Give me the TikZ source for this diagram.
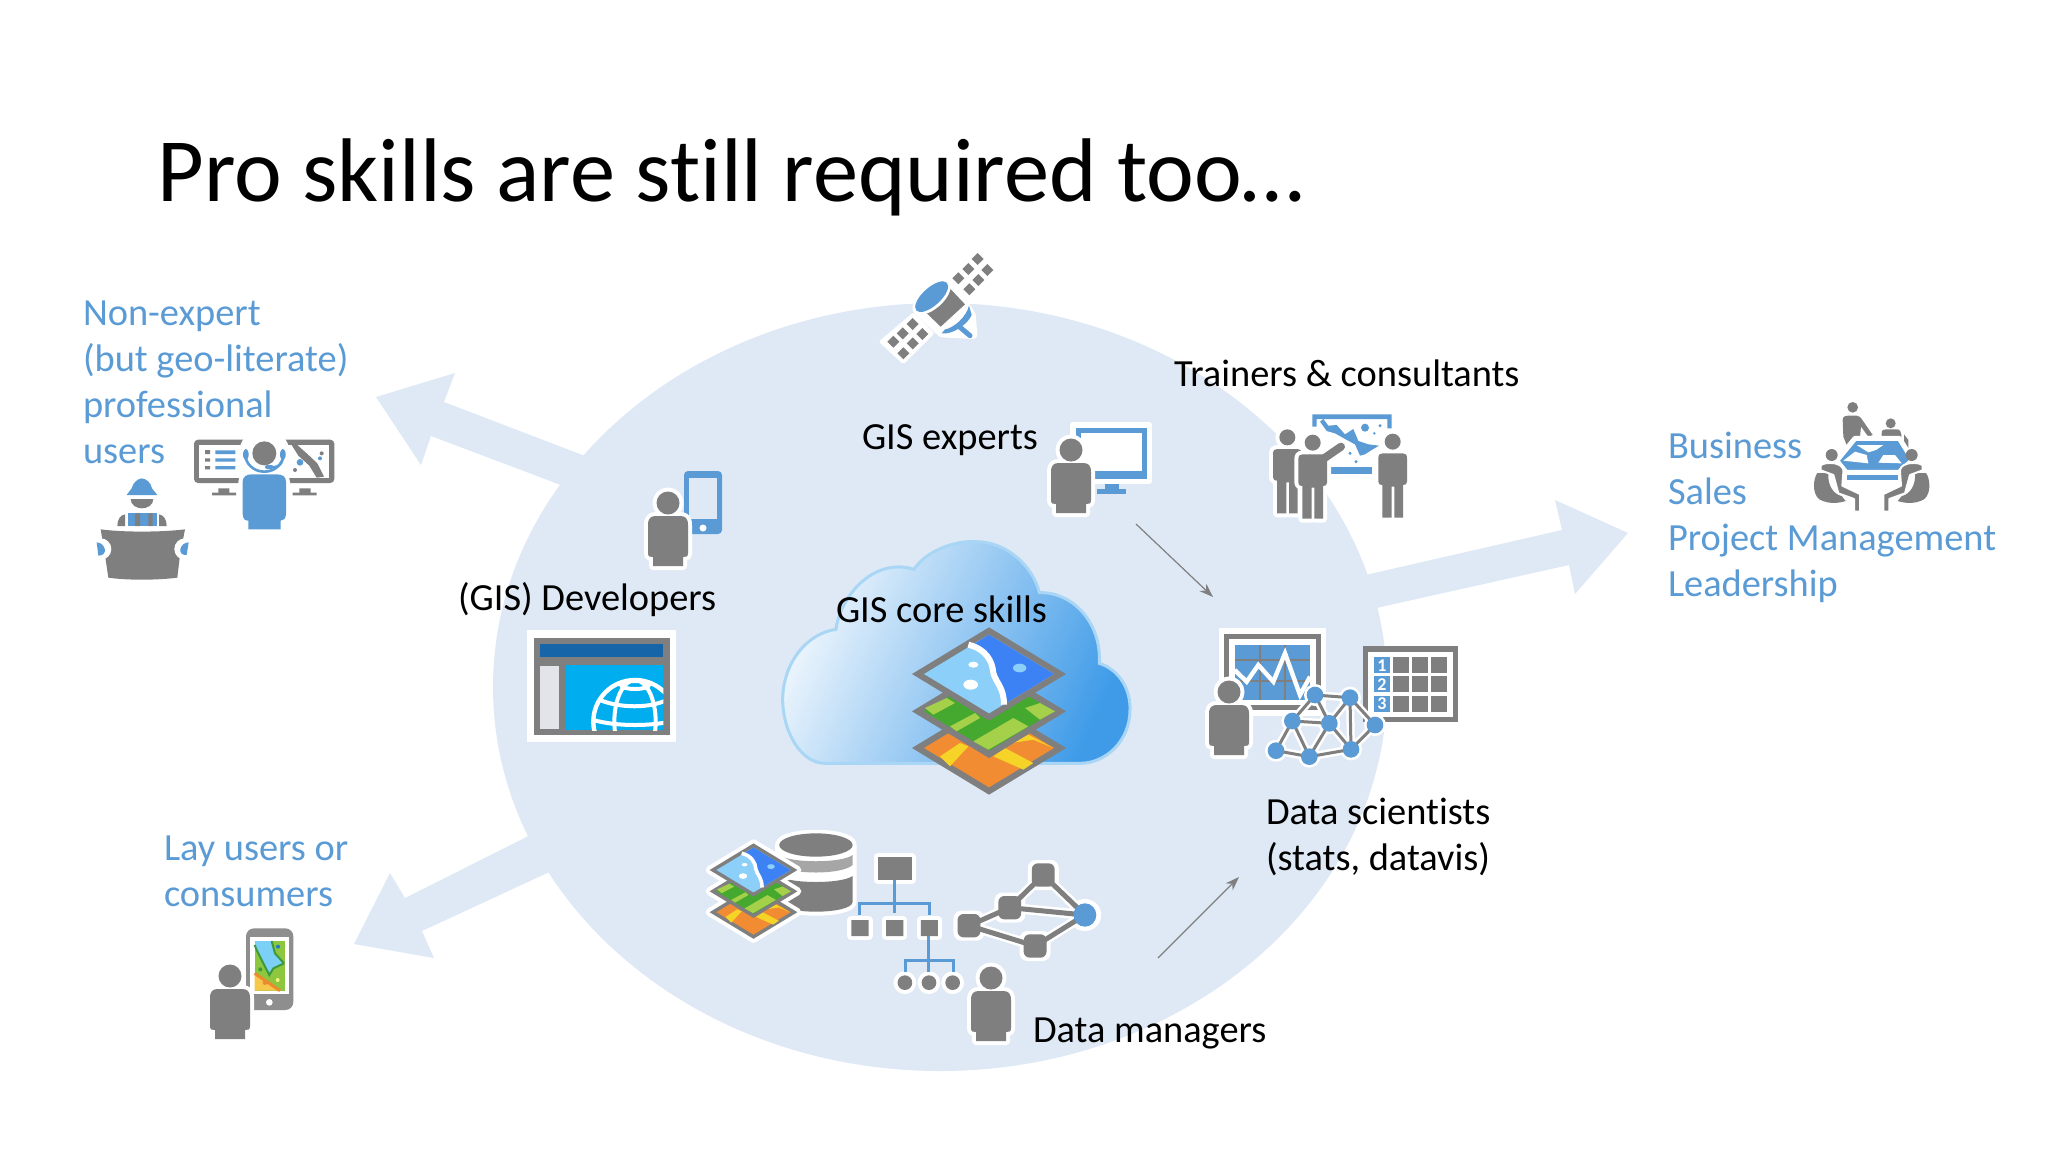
\documentclass[tikz,border=0pt]{standalone}
\usepackage{fontspec}
\setmainfont{Carlito}[Ligatures=NoCommon]
\usetikzlibrary{arrows.meta,calc}
\definecolor{bgblue}{HTML}{DFE9F6}
\definecolor{txtblue}{HTML}{5B9BD5}
\definecolor{icgray}{HTML}{7F7F80}
\definecolor{icblue}{HTML}{5B9BD5}
\definecolor{orange0}{HTML}{F28C33}
\definecolor{yellow0}{HTML}{F5D327}
\definecolor{green0}{HTML}{45A82F}
\definecolor{green1}{HTML}{A5D04A}
\definecolor{sky0}{HTML}{8CCFF9}
\definecolor{deep0}{HTML}{3D82F5}
\definecolor{cloudl}{HTML}{F0F7FD}
\definecolor{cloudr}{HTML}{3F9BE8}
\definecolor{cloudedge}{HTML}{A9D6F5}
\definecolor{winblue}{HTML}{1565A8}
\definecolor{winside}{HTML}{E3E3EA}
\definecolor{wincyan}{HTML}{00AEEF}
\definecolor{dbmid}{HTML}{A6A6A6}
\definecolor{phonegray}{HTML}{8E8E8F}
\definecolor{mapgreen}{HTML}{8DC63F}
\definecolor{mapsky}{HTML}{7CD0F5}
\definecolor{mapdark}{HTML}{3C9A3C}
\definecolor{mapyellow}{HTML}{F5C84B}
\definecolor{maporange}{HTML}{EE8A2E}
\definecolor{mapblue}{HTML}{1F78C8}
\definecolor{mapdot}{HTML}{F7F07A}
\tikzset{
  lbl/.style={inner sep=0pt,outer sep=0pt,anchor=base west,text=black,font=\fontsize{19.2}{23}\selectfont},
  lblblue/.style={inner sep=0pt,outer sep=0pt,anchor=north west,align=left,text=txtblue,font=\fontsize{19.2}{23}\selectfont},
  lblblack/.style={inner sep=0pt,outer sep=0pt,anchor=north west,align=left,text=black,font=\fontsize{19.2}{23}\selectfont},
  bigarrow/.style={fill=bgblue,draw=none},
  thin arrow/.style={draw=icgray,line width=0.6pt,-{Stealth[length=7pt,width=5pt]}},
  halo/.style={draw=white,line width=4pt,line join=round,fill=white},
  cropat/.style 2 args={shift={(#1,#2)},scale=1/3},
}
\newcommand{\PersonPath}{(0,0) circle (11.5) (-20,22) .. controls (-20,15) and (-17,13) .. (-12,13) -- (12,13) .. controls (17,13) and (20,15) .. (20,22) -- (20,50) .. controls (20,54) and (18,54) .. (15,54) -- (15,63) -- (-15,63) -- (-15,54) .. controls (-18,54) and (-20,54) .. (-20,50) -- cycle}
\newcommand{\PersonIcon}[2]{\begin{scope}[shift={(#1,#2)}]
  \path[halo] \PersonPath;
  \fill[icgray] \PersonPath;
\end{scope}}
\newcommand{\StandPath}{(0,0) circle (24) (-43,50) .. controls (-43,38) and (-38,35) .. (-30,35) -- (30,35) .. controls (38,35) and (43,38) .. (43,50) -- (43,120) .. controls (43,128) and (38,130) .. (31,130) -- (31,228) -- (5,228) -- (5,135) -- (-3,135) -- (-3,228) -- (-31,228) -- (-31,130) .. controls (-38,130) and (-43,128) .. (-43,120) -- cycle}
\newcommand{\StanderIcon}[2]{\begin{scope}[shift={(#1,#2)}]
  \path[draw=white,line width=4pt,line join=round,fill=white] \StandPath;
  \fill[icgray] \StandPath;
\end{scope}}
\newcommand{\StackHalo}{%
  \path[halo] (-231,222)--(0,82)--(231,222)--(0,362)--cycle;
  \path[halo] (-231,112)--(0,-28)--(231,112)--(0,252)--cycle;
  \path[halo] (-231,0)--(0,-140)--(231,0)--(0,140)--cycle;
}
\newcommand{\StackIcon}[1]{%
  % bottom
  \fill[icgray] (-231,222)--(0,82)--(231,222)--(0,362)--cycle;
  \fill[orange0] (-195,222)--(0,104)--(195,222)--(0,340)--cycle;
  \fill[yellow0] (-147,247)--(-87,207)--(-62,217)--(-117,277)--cycle;
  \fill[yellow0] (13,247)--(48,222)--(133,267)--(103,287)--cycle;
  \fill[yellow0] (68,207)--(118,182)--(193,222)--(133,197)--cycle;
  % middle
  \fill[icgray] (-231,112)--(0,-28)--(231,112)--(0,252)--cycle;
  \fill[green0] (-195,112)--(0,-6)--(195,112)--(0,230)--cycle;
  \fill[green1] (-192,102)--(-127,72)--(-102,87)--(-167,122)--cycle;
  \fill[green1] (-117,157)--(-42,117)--(-27,132)--(-97,172)--cycle;
  \fill[green1] (-47,202)--(73,132)--(118,157)--(-2,227)--cycle;
  \fill[green1] (108,102)--(153,87)--(198,112)--(153,137)--cycle;
  % top
  \fill[icgray] (-231,0)--(0,-140)--(231,0)--(0,140)--cycle;
  \fill[sky0] (-195,0)--(0,-118)--(195,0)--(0,118)--cycle;
  \fill[deep0] (-42,-92)--(0,-118)--(195,0)--(50,88)--(40,40)--(13,0)--(3,-53)--cycle;
  \draw[white,line width=#1] (-62,-88) .. controls (-10,-75) and (10,-40) .. (13,-3) .. controls (20,25) and (45,40) .. (45,92);
  \fill[white] (-47,-28) ellipse (15 and 9);
  \fill[white] (-55,32) ellipse (22 and 15);
  \fill[sky0] (92,-18) ellipse (20 and 13);
}
\begin{document}
\begin{tikzpicture}[x=0.5pt,y=-0.5pt]
\useasboundingbox (0,0) rectangle (2048,1152);
\fill[white] (0,0) rectangle (2048,1152);

% big arrows and disc
\path[bigarrow] (376,397)--(455,373)--(444,402)--(700,500)--(680,530)--(431,436)--(421,465)--cycle;
\path[bigarrow] (1628,533)--(1555,500)--(1562,530)--(1300,590)--(1300,625)--(1569,565)--(1575,594)--cycle;
\path[bigarrow] (354,944)--(390,873)--(405,898)--(620,790)--(640,830)--(422,931)--(434,958)--cycle;
\fill[bgblue] (940,687) ellipse (447 and 384);

% title
\node[inner sep=0pt,anchor=base west,font=\fontsize{45.2}{54}\selectfont] (title) at (157,201) {Pro skills are still required too\ldots};

% cloud + stack
\begin{scope}[cropat={760}{530}]
  \path[draw=cloudedge,line width=1.5pt,left color=cloudl,right color=cloudr,shading angle=65]
   (195,700) .. controls (120,700) and (68,600) .. (68,510)
   .. controls (68,400) and (140,310) .. (228,298)
   .. controls (240,200) and (340,80) .. (462,118)
   .. controls (500,60) and (590,30) .. (650,35)
   .. controls (740,35) and (820,110) .. (838,188)
   .. controls (940,185) and (1025,280) .. (1018,400)
   .. controls (1080,420) and (1112,480) .. (1110,540)
   .. controls (1110,630) and (1040,700) .. (960,700) -- cycle;
\end{scope}
\begin{scope}[shift={(989,674)},scale=1/3]
  \StackIcon{3pt}
\end{scope}

% labels
\node[lbl] (core) at (836,622) {GIS core skills};
\node[lbl] (dev) at (458,610) {(GIS) Developers};
\node[lbl] (exp) at (862,449) {GIS experts};
\node[lbl] (train) at (1174,386) {Trainers \& consultants};
\node[lbl] (mgr) at (1033,1042) {Data managers};
\node[lblblack] (sci) at (1266,798) {Data scientists\\(stats, datavis)};
\node[lblblue] (nonexp) at (83,301) {Non-expert\\(but geo-literate)\\professional\\users};
\node[lblblue] (lay) at (164,836) {Lay users or\\consumers};
\node[lblblue] (biz) at (1668,432) {Business\\Sales\\Project Management\\Leadership};

% thin arrows
\coordinate (a1s) at (1136,524); \coordinate (a1e) at (1213,597);
\coordinate (a2s) at (1158,958); \coordinate (a2e) at (1239,877);
\draw[thin arrow] (a1s) -- (a1e);
\draw[thin arrow] (a2s) -- (a2e);

% satellite
\begin{scope}[cropat={870}{245}]
  \path[draw=white,line width=2pt,fill=white,line join=round] (325,15)--(380,75)--(298,160)--(240,100)--cycle;
  \path[draw=white,line width=2pt,fill=white,line join=round] (130,210)--(185,265)--(100,350)--(35,290)--cycle;
  \path[halo] (140,195)--(232,112)--(285,180)--(305,210)--(310,270)--(215,265)--cycle;
  \foreach \px/\py in {323/42,295/72,352/75,265/100,325/105,298/133,128/237,157/267,98/265,128/295,70/290,100/325}
    \fill[icgray] (\px-18,\py)--(\px,\py-18)--(\px+18,\py)--(\px,\py+18)--cycle;
  \fill[icgray] (232,122)--(285,178)--(212,245)--(160,195)--cycle;
  \fill[white] (185,155) ellipse [x radius=70,y radius=36,rotate=42];
  \fill[icblue] (185,155) ellipse [x radius=62,y radius=27,rotate=42];
  \fill[icblue] (297,182)--(305,210) .. controls (295,235) and (250,270) .. (215,265)--(225,253) .. controls (250,250) and (290,215) .. cycle;
  \draw[icblue,line width=2.5pt,line cap=round] (268,245)--(300,272);
\end{scope}

% GIS developer: phone + person
\fill[icblue,rounded corners=2pt] (684,471) rectangle (722,534);
\fill[bgblue] (689,478) rectangle (717,519);
\fill[white] (703,528) circle (3.5);
\PersonIcon{668}{503}

% developer window
\begin{scope}[cropat={520}{625}]
  \fill[white] (22,15) rectangle (468,350);
  \fill[icgray] (42,38) rectangle (450,330);
  \fill[winblue] (60,57) rectangle (430,96);
  \fill[winside] (60,122) rectangle (118,312);
  \fill[wincyan] (137,120) rectangle (430,315);
  \begin{scope}
    \clip (137,120) rectangle (430,315);
    \draw[white,line width=2.2pt] (345,290) circle (125);
    \draw[white,line width=2pt] (345,290) ellipse (62 and 125);
    \draw[white,line width=2pt] (345,180) ellipse (42 and 12);
    \draw[white,line width=2pt] (240,225) .. controls (300,250) and (390,250) .. (440,225);
    \draw[white,line width=2pt] (220,285) .. controls (290,305) and (400,305) .. (470,285);
  \end{scope}
\end{scope}

% GIS expert
\path[draw=white,line width=3pt,fill=white,line join=round] (1073,425) rectangle (1149,481);
\fill[icblue] (1076,428) rectangle (1147,479);
\fill[white] (1081,433) rectangle (1142,471);
\fill[icblue] (1105,484) rectangle (1119,489);
\fill[icblue] (1097,489) rectangle (1126,494);
\PersonIcon{1071}{450}

% trainers
\begin{scope}[cropat={1265}{405}]
  \fill[icblue] (142,28)--(380,28)--(380,70)--(367,70)--(367,42)--(155,42)--(155,65)--(142,65)--cycle;
  \fill[icblue] (175,42)--(190,62)--(215,60)--(240,88)--(265,72)--(280,108)--(310,118)--(342,122)--(320,135)--(300,148)--(285,152)--(270,118)--(240,102)--(210,85)--(185,78)--(165,50)--cycle;
  \fill[icblue] (300,68) circle (12) (345,62) circle (5) (328,85) circle (4) (255,145) circle (5) (273,170) circle (5);
  \fill[icblue] (194,185) rectangle (322,208);
  \StanderIcon{67}{97}
  \StanderIcon{143}{113}
  \draw[icgray,line width=4pt,line cap=round] (170,165)--(228,125);
  \StanderIcon{383}{110}
\end{scope}

% business meeting
\begin{scope}[cropat={1800}{395}]
  \fill[icgray] (158,37) circle (16);
  \fill[icgray] (128,75) .. controls (128,65) and (135,62) .. (145,62) -- (170,62) .. controls (178,62) and (182,68) .. (185,72) -- (218,120) -- (205,125) -- (183,95) -- (180,125) -- (140,150) -- (130,125) -- cycle;
  \fill[icgray] (272,85) circle (15);
  \fill[icgray] (245,115) .. controls (245,105) and (250,103) .. (258,103) -- (290,103) .. controls (300,103) and (303,110) .. (304,118) -- (306,160) -- (245,125) -- cycle;
  \fill[icgray] (312,118) -- (325,135) -- (325,160) -- (312,160) -- cycle;
  \path[draw=white,line width=2.5pt,fill=icblue,line join=round] (165,130)--(298,130)--(338,195)--(297,232)--(138,232)--(110,197)--cycle;
  \fill[white] (170,150)--(250,150)--(228,165)--(205,172)--cycle;
  \fill[white] (130,197)--(165,170)--(200,180)--(205,205)--cycle;
  \fill[white] (235,203)--(250,180)--(285,180)--(305,205)--cycle;
  \fill[icblue] (140,240) rectangle (293,254);
  \foreach \mx/\sx in {0/1,430/-1}{
    \begin{scope}[shift={(\mx,0)},xscale=\sx]
      \fill[icgray] (52,234) .. controls (40,250) and (35,295) .. (58,313) .. controls (85,328) and (115,325) .. (137,318) -- (125,303) .. controls (100,298) and (82,270) .. (85,234) -- cycle;
      \fill[icgray] (95,180) circle (18);
      \path[fill=icgray,draw=white,line width=1pt,line join=round] (62,212) .. controls (65,205) and (85,202) .. (105,205) .. controls (125,210) and (132,220) .. (130,232) -- (127,272) -- (180,297) -- (180,350) -- (162,350) -- (162,312) -- (115,295) -- (100,240) -- (62,226) -- cycle;
    \end{scope}
  }
\end{scope}

% data scientist
\begin{scope}[cropat={1200}{625}]
  \path[draw=white,line width=1pt,fill=white] (60,12) rectangle (375,270);
  \fill[icgray] (72,27) rectangle (362,255);
  \fill[white] (88,42) rectangle (347,240);
  \fill[icblue] (104,60) rectangle (330,225);
  \draw[icgray,line width=1.3pt] (180,60)--(180,225) (255,60)--(255,225) (104,105)--(330,105) (104,168)--(330,168);
  \draw[white,line width=2.2pt,line join=miter] (104,135)--(140,170)--(175,120)--(220,170)--(255,85)--(300,210)--(330,155);
  % table
  \fill[icgray] (488,64) rectangle (775,292);
  \fill[white] (505,80) rectangle (758,275);
  \foreach \ry/\num in {97/1,154/2,212/3}{
    \fill[icblue] (522,\ry) rectangle (570,\ry+48);
    \node[text=white,inner sep=0pt,font=\bfseries\fontsize{9}{9}\selectfont] (tn\num) at (546,\ry+24) {\num};
    \foreach \cx in {580,637,694}
      \fill[icgray] (\cx,\ry) rectangle (\cx+48,\ry+48);
  }
  \begin{scope}[scale=3]
    \PersonIcon{29}{67}
  \end{scope}
  % network
  \coordinate (n1) at (345,210); \coordinate (n2) at (450,218); \coordinate (n3) at (277,288);
  \coordinate (n4) at (388,295); \coordinate (n5) at (525,300); \coordinate (n6) at (228,377);
  \coordinate (n7) at (328,395); \coordinate (n8) at (453,373);
  \foreach \a/\b in {n1/n2,n1/n3,n1/n4,n2/n4,n2/n8,n2/n5,n3/n4,n3/n6,n3/n7,n4/n7,n4/n8,n5/n8,n6/n7,n7/n8}
    \draw[white,line width=4pt] (\a)--(\b);
  \foreach \n in {n1,n2,n3,n4,n5,n6,n7,n8}
    \fill[white] (\n) circle (33);
  \foreach \a/\b in {n1/n2,n1/n3,n1/n4,n2/n4,n2/n8,n2/n5,n3/n4,n3/n6,n3/n7,n4/n7,n4/n8,n5/n8,n6/n7,n7/n8}
    \draw[icgray,line width=1.5pt] (\a)--(\b);
  \foreach \n in {n1,n2,n3,n4,n5,n6,n7,n8}
    \fill[icblue] (\n) circle (25);
\end{scope}

% data manager group
\begin{scope}[shift={(680,800)},xscale=1/2.45,yscale=1/3]
  % database
  \path[halo] (243,135) .. controls (243,90) and (423,90) .. (423,135) -- (423,305) .. controls (423,345) and (243,345) .. (243,305) -- cycle;
  \fill[icgray] (333,135) ellipse (90 and 35);
  \fill[dbmid] (243,165) .. controls (270,190) and (396,190) .. (423,165) -- (423,195) .. controls (396,225) and (270,225) .. (243,195) -- cycle;
  \fill[icgray] (243,228) .. controls (270,252) and (396,252) .. (423,228) -- (423,305) .. controls (423,345) and (243,345) .. (243,305) -- cycle;
  % hierarchy
  \path[halo] (484,172) rectangle (568,240);
  \path[halo] (420,360) rectangle (462,408) (505,360) rectangle (547,408) (590,360) rectangle (632,408);
  \path[halo] (551,548) ellipse (18 and 22) (610,548) ellipse (18 and 22) (668,548) ellipse (18 and 22);
  \draw[icblue,line width=1.5pt] (526,240)--(526,340) (440,345)--(440,310)--(612,310)--(612,345);
  \draw[icblue,line width=1.5pt] (610,408)--(610,515) (552,515)--(552,480)--(670,480)--(670,515);
  \fill[icgray] (484,172) rectangle (568,240);
  \fill[icgray] (420,360) rectangle (462,408) (505,360) rectangle (547,408) (590,360) rectangle (632,408);
  \fill[icgray] (551,548) ellipse (18 and 22) (610,548) ellipse (18 and 22) (668,548) ellipse (18 and 22);
  % graph
  \coordinate (g1) at (708,377); \coordinate (g2) at (808,323); \coordinate (g3) at (890,225);
  \coordinate (g4) at (870,438); \coordinate (g5) at (992,345);
  \foreach \a/\b in {g1/g2,g2/g3,g3/g5,g2/g5,g1/g4,g4/g5}
    \draw[white,line width=5pt] (\a)--(\b);
  \foreach \n in {g1,g2,g3,g4}
    \fill[white,rounded corners=4pt] ($(\n)+(-38,-45)$) rectangle ($(\n)+(38,45)$);
  \fill[white] (g5) ellipse (40 and 48);
  \foreach \a/\b in {g1/g2,g2/g3,g3/g5,g2/g5,g1/g4,g4/g5}
    \draw[icgray,line width=2.5pt] (\a)--(\b);
  \foreach \n in {g1,g2,g3,g4}
    \fill[icgray,rounded corners=3pt] ($(\n)+(-28,-35)$) rectangle ($(\n)+(28,35)$);
  \fill[icblue] (g5) ellipse (28 and 35);
\end{scope}
\begin{scope}[shift={(753.5,870)},scale=0.19]
  \StackHalo
  \StackIcon{1.8pt}
\end{scope}
\PersonIcon{991}{978}

% non-expert users: monitors and headset agent
\begin{scope}[cropat={90}{425}]
  \fill[icgray,rounded corners=2pt] (312,44) rectangle (733,174);
  \fill[white] (327,60) rectangle (718,158);
  \fill[icgray] (385,190) rectangle (418,203) (366,203) rectangle (438,211);
  \fill[icgray] (628,190) rectangle (662,203) (608,203) rectangle (680,211);
  \fill[icgray] (345,75) rectangle (360,87) (345,100) rectangle (360,110) (345,123) rectangle (360,133);
  \fill[icblue] (376,76) rectangle (436,87) (376,100) rectangle (436,110) (376,123) rectangle (436,133);
  \fill[icgray] (605,60)--(622,60)--(650,85)--(682,115)--(702,155)--(680,158)--(658,122)--(625,92)--cycle;
  \fill[icblue] (630,112) circle (10) (690,100) circle (6);
  \fill[icgray] (695,85) circle (6) (615,135) circle (6);
  % agent
  \fill[white] (523,85) circle (76);
  \fill[white,rounded corners=6pt] (445,135) rectangle (600,330);
  \fill[icgray] (523,85) circle (36);
  \draw[icblue,line width=1.3pt] (466,88) arc (180:0:57 and 52);
  \fill[icblue,rounded corners=2pt] (459,72) rectangle (476,105) (570,72) rectangle (587,105);
  \draw[icblue,line width=1pt] (578,105) .. controls (575,122) and (560,126) .. (545,126);
  \fill[icblue,rounded corners=1pt] (525,120) rectangle (550,132);
  \fill[icblue] (458,170) .. controls (458,155) and (470,148) .. (485,148) -- (560,148) .. controls (578,148) and (588,155) .. (588,170) -- (588,265) .. controls (588,282) and (580,287) .. (572,287) -- (572,313) -- (475,313) -- (475,287) .. controls (465,287) and (458,282) .. (458,265) -- cycle;
  % worker
  \fill[icblue] (110,210) -- (125,190) .. controls (130,172) and (142,162) .. (155,160) .. controls (170,162) and (182,172) .. (186,190) -- (202,210) -- cycle;
  \fill[icgray] (122,222) -- (190,222) .. controls (190,240) and (172,250) .. (156,250) .. controls (140,250) and (122,240) .. cycle;
  \fill[icgray] (82,303) .. controls (82,285) and (90,270) .. (105,268) -- (105,303) -- cycle;
  \fill[icgray] (230,303) .. controls (230,285) and (222,270) .. (207,268) -- (207,303) -- cycle;
  \fill[icblue] (113,265) rectangle (200,303);
  \fill[icgray] (135,265) rectangle (150,303) (175,265) rectangle (188,303);
  \fill[icgray] (32,313) .. controls (100,322) and (210,322) .. (285,313) -- (270,390) -- (262,458) .. controls (200,466) and (110,466) .. (55,458) -- (45,390) -- cycle;
  \fill[white] (32,372) circle (32) (285,372) circle (32);
  \fill[icblue] (20,352) .. controls (45,352) and (58,392) .. (25,392) -- cycle;
  \fill[icblue] (296,352) .. controls (270,352) and (258,392) .. (290,390) -- cycle;
\end{scope}

% lay user: phone + person
\begin{scope}[cropat={180}{800}]
  \fill[phonegray,rounded corners=4pt] (198,385) rectangle (340,630);
  \fill[white] (210,410) rectangle (328,583);
  \fill[mapgreen] (224,423) rectangle (315,572);
  \fill[mapsky] (224,423)--(275,423)--(285,460)--(312,490)--(280,505)--(268,525)--(250,490)--(230,450)--cycle;
  \draw[mapdark,line width=1pt] (224,435)--(230,450)--(250,490)--(268,525)--(280,505)--(312,490) (275,423)--(285,460)--(312,490);
  \fill[mapyellow] (224,520)--(300,572)--(224,572)--cycle;
  \draw[maporange,line width=1.5pt] (224,520)--(300,572);
  \fill[mapblue] (294,440) circle (6);
  \fill[mapdark] (241,508) circle (6);
  \fill[maporange] (255,548) circle (7);
  \fill[mapdot] (293,540) circle (6);
  \fill[white] (268,607) circle (10);
\end{scope}
\PersonIcon{230}{976}
\end{tikzpicture}
\end{document}
